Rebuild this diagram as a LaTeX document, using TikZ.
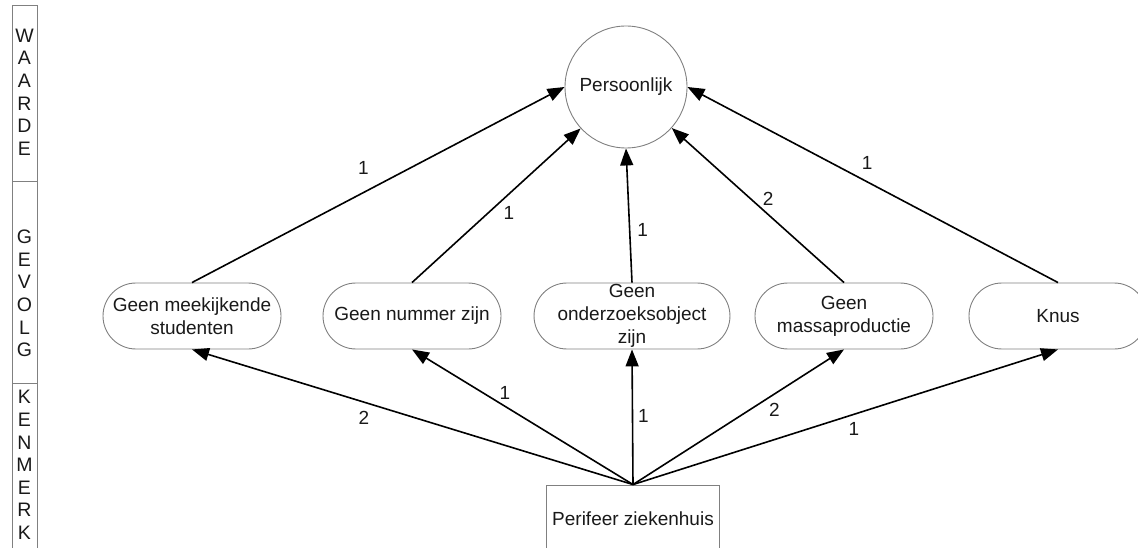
\documentclass[tikz,border=0pt]{standalone}
\usepackage{fontspec}
\setmainfont{Liberation Sans}
\usetikzlibrary{arrows.meta,shapes.misc}
\begin{document}
\begin{tikzpicture}[x=1pt,y=-1pt,
  every node/.style={font=\fontsize{19}{23}\selectfont, text=black!90},
  frame/.style={draw=black!50, line width=0.9pt},
  value/.style={frame, circle, minimum size=122pt, inner sep=0pt},
  effect/.style={frame, rounded rectangle, minimum width=178pt, minimum height=66pt, inner sep=0pt, align=center},
  feature/.style={frame, rectangle, minimum width=173pt, minimum height=67pt, inner sep=0pt},
  levelname/.style={align=center, inner sep=0pt, font=\fontsize{19.5}{22.6}\selectfont},
  link/.style={line width=1.6pt, -{Triangle[length=17pt,width=13pt]}},
  weight/.style={inner sep=0pt}
]
\useasboundingbox (0,0) rectangle (1138,548);

% level column on the left
\draw[frame] (12,560) -- (12,5) -- (37,5) -- (37,560);
\draw[frame] (12,181) -- (37,181);
\draw[frame] (12,383) -- (37,383);
\node[levelname] (waarde)  at (24.5,92)    {W\\A\\A\\R\\D\\E};
\node[levelname] (gevolg)  at (24.5,293.5) {G\\E\\V\\O\\L\\G};
\node[levelname] (kenmerk) at (24.5,465)   {K\\E\\N\\M\\E\\R\\K};

% value
\node[value] (circ) at (626,87) {Persoonlijk};

% consequences
\node[effect] (n1) at (192,316)  {Geen meekijkende\\studenten};
\node[effect] (n2) at (412,316)  {Geen nummer zijn};
\node[effect] (n3) at (632,316)  {Geen\\onderzoeksobject\\zijn};
\node[effect] (n4) at (844,316)  {Geen\\massaproductie};
\node[effect] (n5) at (1058,316) {Knus};

% attribute
\node[feature] (pb) at (633,518.5) {Perifeer ziekenhuis};

% consequence -> value
\draw[link] (n1.north) -- node[weight, pos=0.46, yshift=25pt] (w1) {1} (circ.west);
\draw[link] (n2.north) -- node[weight, pos=0.45, xshift=21pt] (w2) {1} (circ);
\draw[link] (n3.north) -- node[weight, pos=0.39, xshift=13pt] (w3) {1} (circ.south);
\draw[link] (n4.north) -- node[weight, pos=0.44, yshift=16pt] (w4) {2} (circ);
\draw[link] (n5.north) -- node[weight, pos=0.515, yshift=19pt] (w5) {1} (circ.east);

% attribute -> consequence
\draw[link] (pb.north) -- node[weight, pos=0.61, yshift=-16pt] (v1) {2} (n1.south);
\draw[link] (pb.north) -- node[weight, pos=0.58, yshift=13pt] (v2) {1} (n2.south);
\draw[link] (pb.north) -- node[weight, pos=0.51, xshift=11pt] (v3) {1} (n3.south);
\draw[link] (pb.north) -- node[weight, pos=0.67, yshift=-16pt] (v4) {2} (n4.south);
\draw[link] (pb.north) -- node[weight, pos=0.52, yshift=-15pt] (v5) {1} (n5.south);
\end{tikzpicture}
\end{document}
